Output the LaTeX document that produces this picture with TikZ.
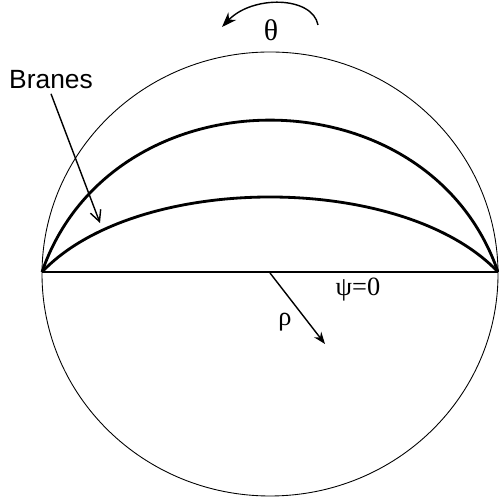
\documentclass[tikz,border=0pt]{standalone}
\usepackage{fontspec}
\setmainfont{Liberation Serif}
\newfontfamily\labelfont{Liberation Sans}
\usetikzlibrary{arrows.meta}
\begin{document}
\begin{tikzpicture}[every node/.style={font=\fontsize{15}{17}\selectfont, inner sep=1pt},
  brane/.style={line width=1.6pt}]
\useasboundingbox (0,0) rectangle (9.96,10);
\coordinate (left) at (0.84,4.56);
\coordinate (right) at (9.96,4.56);
\coordinate (origin) at (5.4,4.54);
\draw[line width=0.5pt] (5.4,4.52) ellipse [x radius=4.56, y radius=4.44];
\draw[brane] (left) -- (right);
\draw[brane] (left) .. controls (2.24,8.61) and (8.56,8.61) .. (right);
\draw[brane] (left) .. controls (2.74,6.56) and (8.06,6.56) .. (right);
% labels
\node (theta) at (5.42,9.4) {\fontsize{17}{19}\selectfont θ};
\node (branes) at (1.02,8.4) {\labelfont\fontsize{15}{17}\selectfont Branes};
\node (psi) at (7.16,4.2) {ψ=0};
\node (rho) at (5.7,3.56) {ρ};
\coordinate (branestip) at (2.0,5.54);
\coordinate (rhotip) at (6.5,3.12);
\coordinate (thetastart) at (6.36,9.5);
\coordinate (thetaend) at (4.44,9.46);
% arrows
\draw[-{Straight Barb[length=2.2mm, width=2.2mm]}, line width=0.8pt] (branes.south) ++(0,-0.05) -- (branestip);
\draw[-{Stealth[length=2.4mm, width=1.8mm]}, line width=0.8pt] (origin) -- (rhotip);
\draw[-{Stealth[length=3mm, width=2.2mm]}, line width=0.8pt] (thetastart) .. controls (6.25,10.08) and (5.05,10.1) .. (thetaend);
\end{tikzpicture}
\end{document}
